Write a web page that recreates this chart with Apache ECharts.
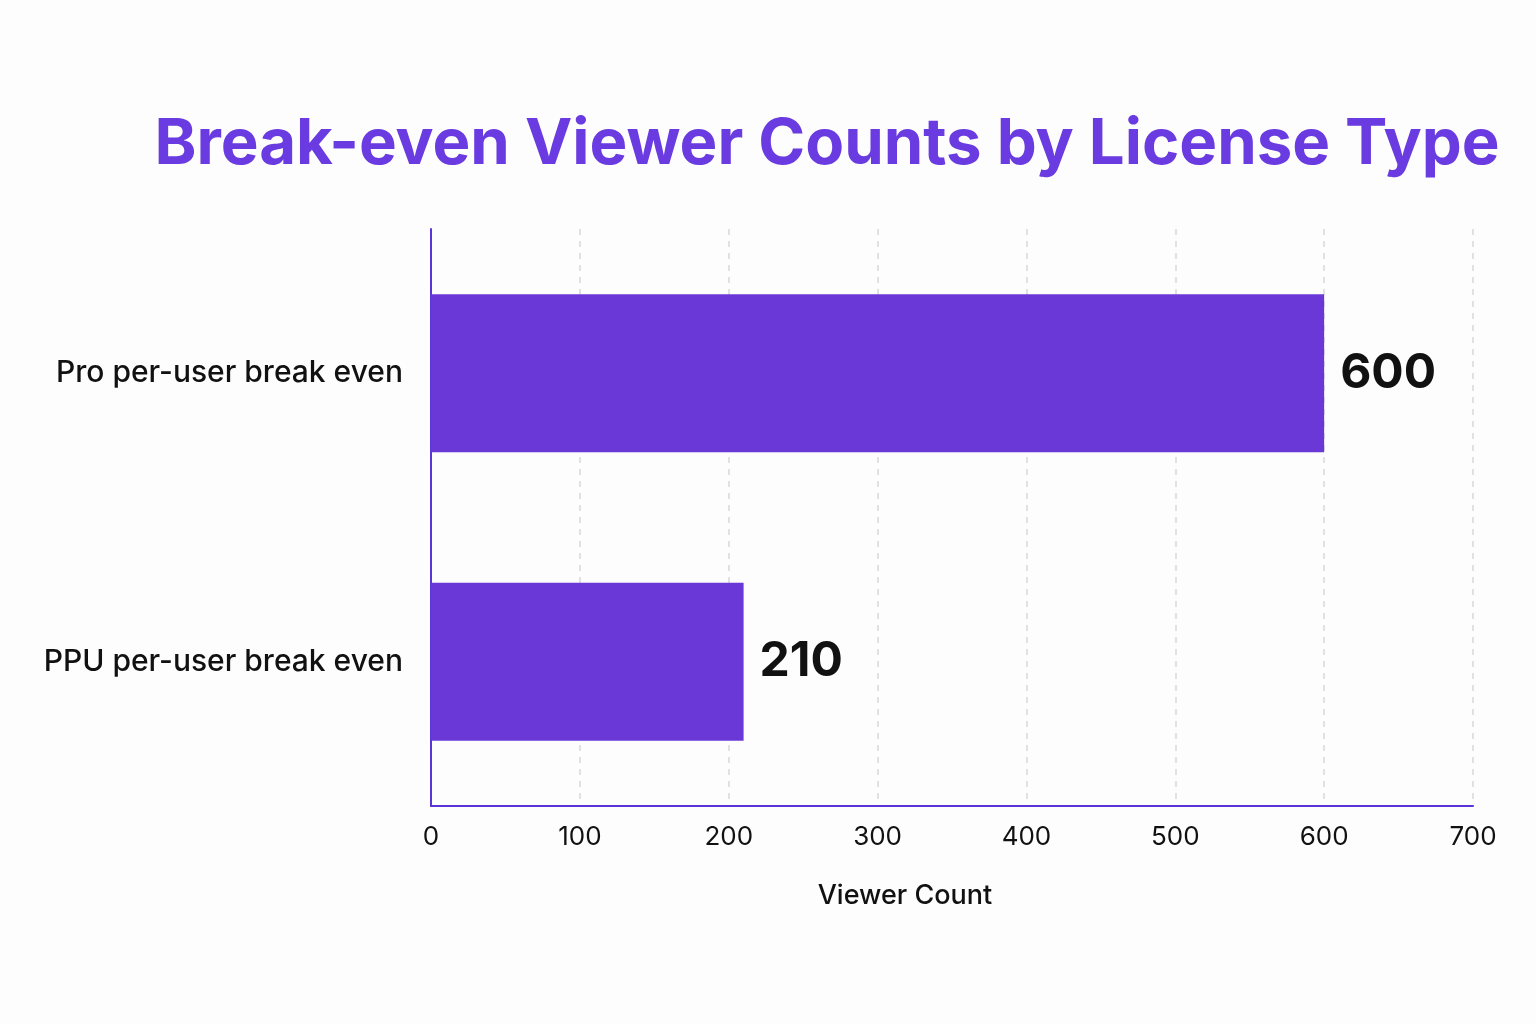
<!DOCTYPE html>
<html><head><meta charset="utf-8">
<script src="https://cdn.jsdelivr.net/npm/echarts@6/dist/echarts.min.js"></script>
<style>html,body{margin:0;padding:0;background:#fdfdfd}#c{width:1536px;height:1024px}</style>
</head><body><div id="c"></div>
<script>
const categories = ["Pro per-user break even", "PPU per-user break even"];
const viewerCounts = [600, 210];
const xTicks = [0, 100, 200, 300, 400, 500, 600, 700];

const chart = echarts.init(document.getElementById('c'));
chart.setOption({
  backgroundColor: '#fdfdfd',
  textStyle: { fontFamily: 'Inter' },
  title: {
    text: 'Break-even Viewer Counts by License Type',
    left: 822, top: 108, textAlign: 'center',
    textStyle: { fontFamily: 'Inter', fontWeight: 'bold', fontSize: 63.5, color: '#6a3be0' }
  },
  grid: { left: 431, right: 63, top: 229, bottom: 218, containLabel: false },
  xAxis: {
    type: 'value', min: 0, max: 700, interval: 100,
    name: 'Viewer Count', nameLocation: 'middle', nameGap: 76,
    nameTextStyle: { fontFamily: 'Inter', fontSize: 27, color: '#111', fontWeight: 500, padding: [0, 94, 0, 0] },
    axisLine: { show: true, lineStyle: { color: '#5b34d8', width: 2 } },
    axisTick: { show: false },
    axisLabel: { fontFamily: 'Inter', fontSize: 26, color: '#111', margin: 18,
      formatter: v => String(xTicks.includes(v) ? v : '') },
    splitLine: { show: true, lineStyle: { type: [6, 6], color: '#d8d8d8', width: 1.5 } }
  },
  yAxis: {
    type: 'category', data: categories, inverse: true,
    axisLine: { show: true, lineStyle: { color: '#5b34d8', width: 2 } },
    axisTick: { show: false },
    axisLabel: { fontFamily: 'Inter', fontSize: 30, color: '#111', fontWeight: 500, margin: 28 }
  },
  series: [{
    type: 'bar', data: viewerCounts, barWidth: 158,
    itemStyle: { color: '#6a38d6' },
    label: { show: true, position: 'right', distance: 16, fontFamily: 'Inter', fontWeight: 'bold', fontSize: 48, color: '#111' }
  }]
});
</script></body></html>
